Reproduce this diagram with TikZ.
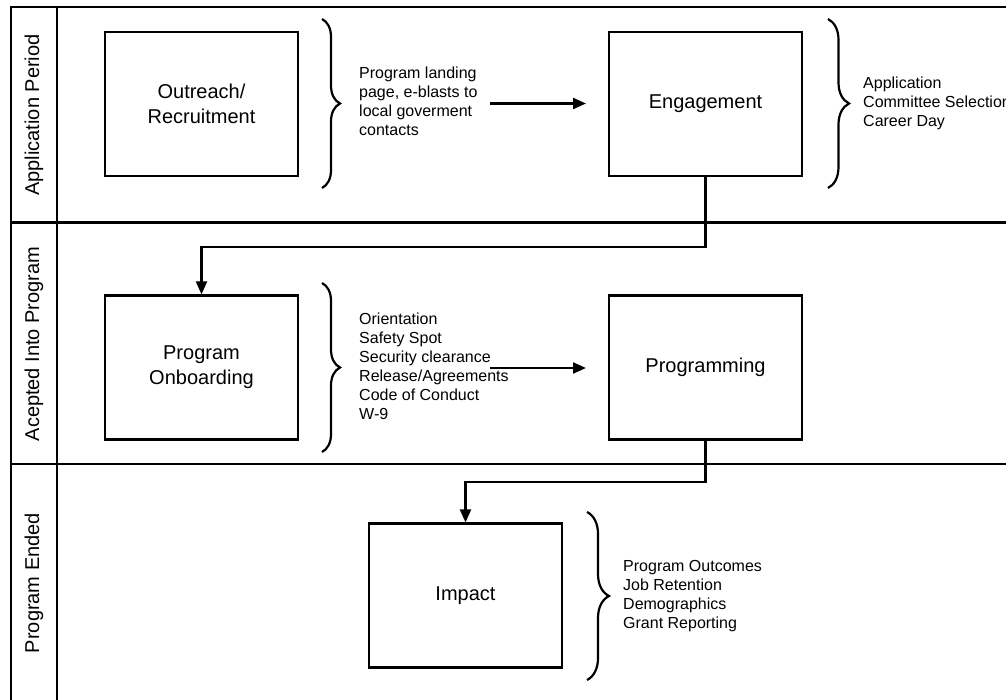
\documentclass[tikz,border=0pt]{standalone}
\usepackage{fontspec}
\setmainfont{Liberation Sans}
\usetikzlibrary{arrows.meta,decorations.pathreplacing}
\begin{document}
\begin{tikzpicture}[x=1pt,y=-1pt,
  stage/.style={draw,line width=2.2pt,minimum width=193pt,minimum height=144pt,
    font=\fontsize{20}{25}\selectfont,align=center,inner sep=0pt},
  lane/.style={rotate=90,font=\fontsize{20}{24}\selectfont},
  note/.style={anchor=north west,align=left,inner sep=0pt,font=\fontsize{16}{19}\selectfont},
  arr/.style={line width=2.2pt,-{Triangle[length=13pt,width=11pt]}},
  frame/.style={line width=2.2pt},
  curly/.style={line width=2.2pt,decorate,decoration={brace,amplitude=#1}},
]
\useasboundingbox (0,0) rectangle (1006,700);

% swimlane frame
\draw[frame] (1020,7) -- (11,7) -- (11,702);
\draw[frame] (57,7) -- (57,702);
\draw[frame] (11,222.5) -- (1020,222.5);
\draw[frame] (11,464) -- (1020,464);

% lane titles
\node[lane] (l1) at (34,115) {Application Period};
\node[lane] (l2) at (34,344) {Acepted Into Program};
\node[lane] (l3) at (34,583) {Program Ended};

% stages
\node[stage] (out) at (201.5,104) {Outreach/\\Recruitment};
\node[stage] (eng) at (705.5,104) {Engagement};
\node[stage] (onb) at (201.5,367.5) {Program\\Onboarding};
\node[stage] (prg) at (705.5,367.5) {Programming};
\node[stage] (imp) at (465.5,595.5) {Impact};

% braces
\draw[curly=18pt] (322,19) -- (322,188);
\draw[curly=21pt] (828,19) -- (828,188);
\draw[curly=18pt] (322,283) -- (322,452);
\draw[curly=22pt] (587,512) -- (587,680);

% notes
\node[note] (n1) at (359,67) {Program landing\\page, e-blasts to\\local goverment\\contacts};
\node[note] (n2) at (863,77) {Application\\Committee Selection\\Career Day};
\node[note] (n3) at (359,313) {Orientation\\Safety Spot\\Security clearance\\Release/Agreements\\Code of Conduct\\W-9};
\node[note] (n4) at (623,560) {Program Outcomes\\Job Retention\\Demographics\\Grant Reporting};

% flow arrows
\coordinate (a1s) at (490,103.5);
\coordinate (a1e) at (586,103.5);
\draw[arr] (a1s) -- (a1e);
\coordinate (a2s) at (490,368);
\coordinate (a2e) at (586,368);
\draw[arr] (a2s) -- (a2e);

\coordinate (j1) at (705.5,247);
\draw[arr] (eng.south) -- (j1) -| (onb.north);
\coordinate (j2) at (705.5,482);
\draw[arr] (prg.south) -- (j2) -| (imp.north);
\end{tikzpicture}
\end{document}
